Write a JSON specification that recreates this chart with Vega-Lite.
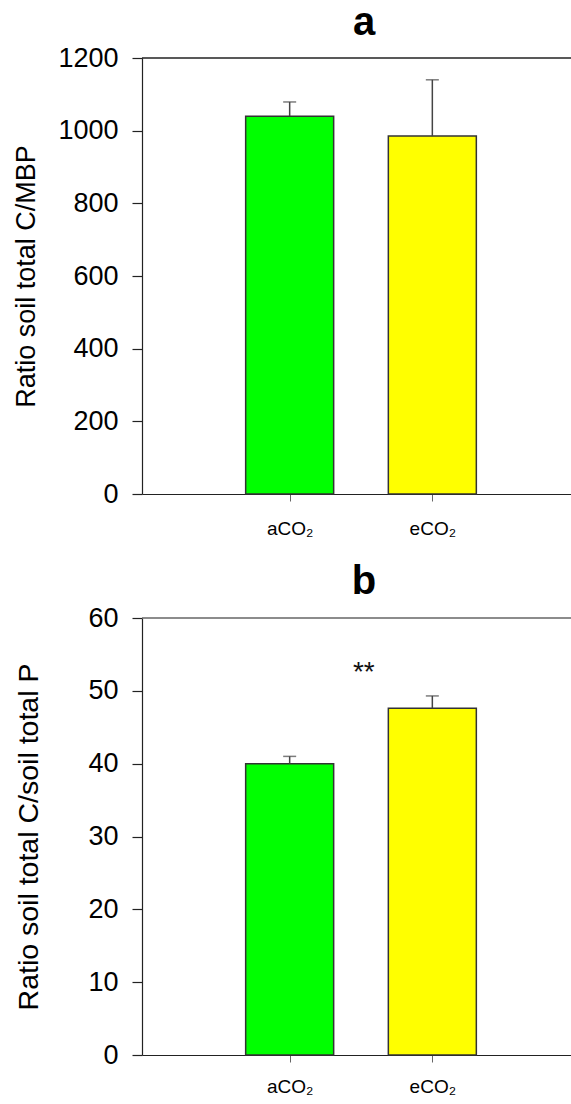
{
  "$schema": "https://vega.github.io/schema/vega-lite/v6.json",
  "padding": {"left": 12, "top": 3, "right": 0, "bottom": 0},
  "spacing": 24,
  "datasets": {
    "a": [
      {"treatment": "aCO₂", "pos": 1, "mean": 1040, "upper": 1079},
      {"treatment": "eCO₂", "pos": 2, "mean": 985, "upper": 1140}
    ],
    "b": [
      {"treatment": "aCO₂", "pos": 1, "mean": 40, "upper": 41},
      {"treatment": "eCO₂", "pos": 2, "mean": 47.6, "upper": 49.3}
    ],
    "sig": [
      {"pos": 1.52, "value": 51.3, "label": "**"}
    ]
  },
  "vconcat": [
    {
      "width": 438,
      "height": 436,
      "title": {"text": "a", "fontSize": 40, "fontWeight": "bold", "dx": 3, "offset": 1},
      "data": {"name": "a"},
      "layer": [
        {
          "mark": {"type": "rule", "color": "#222", "strokeWidth": 1.2},
          "encoding": {"y": {"datum": 1200, "type": "quantitative"}}
        },
        {
          "mark": {"type": "bar", "width": 88, "stroke": "#333", "strokeWidth": 1.5},
          "encoding": {
            "x": {"field": "pos", "type": "quantitative", "scale": {"domain": [0, 3.0], "nice": false, "zero": false},
              "axis": {"values": [1, 2], "labelExpr": "datum.value == 1 ? 'aCO₂' : 'eCO₂'", "title": null, "grid": false, "tickSize": 7, "tickColor": "#666", "labelPadding": 18, "labelFontSize": 19, "domainColor": "#222", "domainWidth": 1.2}},
            "y": {"field": "mean", "type": "quantitative", "scale": {"domain": [0, 1200], "nice": false},
              "axis": {"values": [0, 200, 400, 600, 800, 1000, 1200], "format": "d", "title": "Ratio soil total C/MBP", "titleFontSize": 27, "titlePadding": 17, "grid": false}},
            "color": {"field": "treatment", "type": "nominal", "scale": {"domain": ["aCO₂", "eCO₂"], "range": ["#00FF00", "#FFFF00"]}, "legend": null}
          }
        },
        {
          "mark": {"type": "rule", "color": "#444", "strokeWidth": 1.5},
          "encoding": {
            "x": {"field": "pos", "type": "quantitative"},
            "y": {"field": "mean", "type": "quantitative"},
            "y2": {"field": "upper"}
          }
        },
        {
          "mark": {"type": "tick", "orient": "horizontal", "size": 13, "thickness": 1.5, "color": "#444"},
          "encoding": {
            "x": {"field": "pos", "type": "quantitative"},
            "y": {"field": "upper", "type": "quantitative"}
          }
        }
      ]
    },
    {
      "width": 438,
      "height": 437,
      "title": {"text": "b", "fontSize": 40, "fontWeight": "bold", "dx": 3, "offset": 2},
      "layer": [
        {
          "data": {"name": "b"},
          "mark": {"type": "rule", "color": "#666", "strokeWidth": 1.2},
          "encoding": {"y": {"datum": 60, "type": "quantitative"}}
        },
        {
          "data": {"name": "b"},
          "mark": {"type": "bar", "width": 88, "stroke": "#333", "strokeWidth": 1.5},
          "encoding": {
            "x": {"field": "pos", "type": "quantitative", "scale": {"domain": [0, 3.0], "nice": false, "zero": false},
              "axis": {"values": [1, 2], "labelExpr": "datum.value == 1 ? 'aCO₂' : 'eCO₂'", "title": null, "grid": false, "tickSize": 7, "tickColor": "#666", "labelPadding": 15, "labelFontSize": 19, "domainColor": "#222", "domainWidth": 1.2}},
            "y": {"field": "mean", "type": "quantitative", "scale": {"domain": [0, 60], "nice": false},
              "axis": {"values": [0, 10, 20, 30, 40, 50, 60], "format": "d", "title": "Ratio soil total C/soil total P", "titleFontSize": 28.5, "titlePadding": 44, "grid": false}},
            "color": {"field": "treatment", "type": "nominal", "scale": {"domain": ["aCO₂", "eCO₂"], "range": ["#00FF00", "#FFFF00"]}, "legend": null}
          }
        },
        {
          "data": {"name": "b"},
          "mark": {"type": "rule", "color": "#444", "strokeWidth": 1.5},
          "encoding": {
            "x": {"field": "pos", "type": "quantitative"},
            "y": {"field": "mean", "type": "quantitative"},
            "y2": {"field": "upper"}
          }
        },
        {
          "data": {"name": "b"},
          "mark": {"type": "tick", "orient": "horizontal", "size": 13, "thickness": 1.5, "color": "#444"},
          "encoding": {
            "x": {"field": "pos", "type": "quantitative"},
            "y": {"field": "upper", "type": "quantitative"}
          }
        },
        {
          "data": {"name": "sig"},
          "mark": {"type": "text", "fontSize": 28, "baseline": "alphabetic", "align": "center", "color": "#111"},
          "encoding": {
            "x": {"field": "pos", "type": "quantitative"},
            "y": {"field": "value", "type": "quantitative"},
            "text": {"field": "label"}
          }
        }
      ]
    }
  ],
  "config": {
    "font": "Liberation Sans",
    "view": {"stroke": null},
    "title": {"color": "#000", "anchor": "middle", "font": "Liberation Sans"},
    "axis": {
      "labelFont": "Liberation Sans",
      "titleFont": "Liberation Sans",
      "labelColor": "#000",
      "titleColor": "#000",
      "domainColor": "#222",
      "tickColor": "#222"
    },
    "axisY": {
      "labelFontSize": 27,
      "titleFontWeight": "normal",
      "tickSize": 10,
      "labelPadding": 14,
      "domainWidth": 1.2,
      "tickWidth": 1.2
    }
  }
}
